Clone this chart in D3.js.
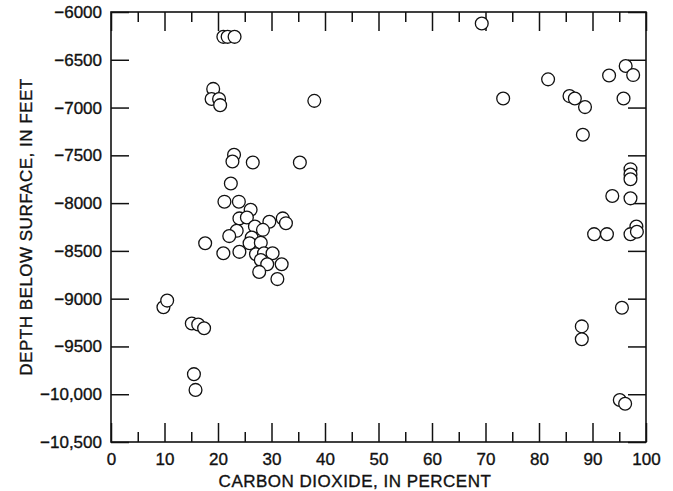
<!DOCTYPE html>
<html>
<head>
<meta charset="utf-8">
<script src="https://cdn.jsdelivr.net/npm/d3@7"></script>
<style>
  body { margin: 0; background: #fff; }
  svg text { font-family: "Liberation Sans", Arial, sans-serif; fill: #111; stroke: #111; stroke-width: 0.35; }
</style>
</head>
<body>
<svg id="chart" width="673" height="491"></svg>
<script>
// carbon dioxide (percent) and depth below surface (feet)
const co2Percent = [
  21.0, 21.8, 23.1, 19.1, 18.8, 20.2, 20.4, 38.0, 23.0, 22.7,
  26.5, 35.3, 22.4, 21.2, 23.9, 26.1, 24.0, 25.4, 26.9, 29.6,
  32.1, 32.7, 28.4, 23.5, 22.1, 26.3, 25.9, 28.0, 17.6, 21.0,
  24.0, 27.1, 28.6, 30.2, 28.0, 29.2, 31.9, 27.7, 31.1, 9.8,
  10.5, 15.1, 16.3, 17.4, 15.5, 15.8,
  69.3, 73.3, 81.7, 85.7, 86.7, 88.6, 88.2, 93.1, 96.2, 97.6,
  95.8, 97.1, 97.1, 97.1, 93.7, 97.1, 98.2, 97.1, 98.3, 90.3,
  92.7, 95.5, 88.0, 88.0, 95.1, 96.1
];
const depthFeet = [
  -6260, -6260, -6260, -6805, -6910, -6910, -6975, -6930, -7495, -7565,
  -7575, -7575, -7795, -7985, -7985, -8070, -8160, -8150, -8245, -8195,
  -8160, -8210, -8280, -8290, -8345, -8360, -8420, -8415, -8420, -8525,
  -8510, -8535, -8525, -8525, -8595, -8640, -8640, -8720, -8795, -9090,
  -9020, -9260, -9270, -9310, -9790, -9955,
  -6120, -6905, -6705, -6880, -6905, -6995, -7285, -6665, -6565, -6660,
  -6905, -7645, -7700, -7750, -7925, -7950, -8245, -8325, -8300, -8325,
  -8325, -9095, -9290, -9425, -10060, -10100
];
const xTicks = [0, 10, 20, 30, 40, 50, 60, 70, 80, 90, 100];
const xMinorTicks = [5, 15, 25, 35, 45, 55, 65, 75, 85, 95];
const yTicks = [-6000, -6500, -7000, -7500, -8000, -8500, -9000, -9500, -10000, -10500];
const xTitle = "CARBON DIOXIDE, IN PERCENT";
const yTitle = "DEPTH BELOW SURFACE, IN FEET";

const svg = d3.select("#chart");
const plotL = 111, plotR = 646, plotT = 12, plotB = 442;

const x = d3.scaleLinear().domain([0, 100]).range([plotL, plotR]);
const y = d3.scaleLinear().domain([-10500, -6000]).range([plotB, plotT]);

const fmtY = d => {
  const s = Math.abs(d) >= 10000 ? d3.format(",")(Math.abs(d)) : String(Math.abs(d));
  return "\u2212" + s;
};

function styleAxis(g) {
  g.select(".domain").remove();
  g.selectAll(".tick line").attr("stroke", "#111").attr("stroke-width", 1.5);
  g.selectAll(".tick text")
    .attr("font-size", 17)
    .attr("fill", "#111");
}

// bottom axis: labels + major/minor ticks pointing inward
svg.append("g")
  .attr("transform", `translate(0,${plotB})`)
  .call(d3.axisBottom(x).tickValues(xTicks).tickSize(-19).tickPadding(11).tickFormat(d3.format("d")))
  .call(styleAxis);
svg.append("g")
  .attr("transform", `translate(0,${plotB})`)
  .call(d3.axisBottom(x).tickValues(xMinorTicks).tickSize(-10).tickFormat(""))
  .call(styleAxis);

// top axis: ticks only
svg.append("g")
  .attr("transform", `translate(0,${plotT})`)
  .call(d3.axisTop(x).tickValues(xTicks).tickSize(-19).tickFormat(""))
  .call(styleAxis);
svg.append("g")
  .attr("transform", `translate(0,${plotT})`)
  .call(d3.axisTop(x).tickValues(xMinorTicks).tickSize(-10).tickFormat(""))
  .call(styleAxis);

// left axis
svg.append("g")
  .attr("transform", `translate(${plotL},0)`)
  .call(d3.axisLeft(y).tickValues(yTicks).tickSize(-18).tickPadding(9).tickFormat(fmtY))
  .call(styleAxis);

// right axis: ticks only
svg.append("g")
  .attr("transform", `translate(${plotR},0)`)
  .call(d3.axisRight(y).tickValues(yTicks).tickSize(-18).tickFormat(""))
  .call(styleAxis);

// frame
svg.append("rect")
  .attr("x", plotL).attr("y", plotT)
  .attr("width", plotR - plotL).attr("height", plotB - plotT)
  .attr("fill", "none").attr("stroke", "#111").attr("stroke-width", 1.6);

// points
svg.append("g")
  .selectAll("circle")
  .data(co2Percent.map((v, i) => ({co2: v, depth: depthFeet[i]})))
  .join("circle")
    .attr("cx", d => x(d.co2))
    .attr("cy", d => y(d.depth))
    .attr("r", 6.4)
    .attr("fill", "#fff")
    .attr("stroke", "#111")
    .attr("stroke-width", 1.3);

// titles
svg.append("text")
  .attr("x", 355).attr("y", 487)
  .attr("text-anchor", "middle")
  .attr("font-size", 17)
  .attr("letter-spacing", 0.5)
  .text(xTitle);

svg.append("text")
  .attr("transform", "translate(31.5,227) rotate(-90)")
  .attr("text-anchor", "middle")
  .attr("font-size", 17)
  .attr("letter-spacing", 0.5)
  .text(yTitle);
</script>
</body>
</html>
